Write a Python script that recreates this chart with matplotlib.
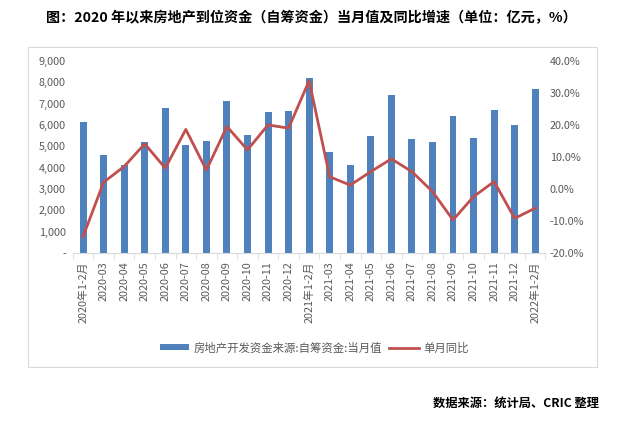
import matplotlib
matplotlib.use("Agg")
import matplotlib.pyplot as plt
from matplotlib.patches import Rectangle
from matplotlib.ticker import FuncFormatter

plt.rcParams["font.family"] = ["Noto Sans CJK SC", "DejaVu Sans"]

months = [
    "2020年1-2月", "2020-03", "2020-04", "2020-05", "2020-06", "2020-07",
    "2020-08", "2020-09", "2020-10", "2020-11", "2020-12",
    "2021年1-2月", "2021-03", "2021-04", "2021-05", "2021-06", "2021-07",
    "2021-08", "2021-09", "2021-10", "2021-11", "2021-12",
    "2022年1-2月",
]
# 自筹资金当月值（亿元）
self_funds = [
    6150, 4590, 4120, 5200, 6800, 5060, 5250, 7120, 5530, 6610, 6660,
    8200, 4730, 4120, 5480, 7410, 5340, 5200, 6420, 5390, 6700, 6000,
    7690,
]
# 单月同比（%）
yoy = [
    -14.9, 2.1, 7.0, 14.1, 6.5, 18.6, 5.9, 19.5, 12.2, 20.0, 19.0,
    33.8, 3.8, 1.2, 5.4, 9.4, 5.4, -0.8, -9.7, -2.4, 2.3, -9.2,
    -6.0,
]

bar_color = "#4F81BD"
line_color = "#C0504D"
tick_color = "#595959"

fig = plt.figure(figsize=(6.22, 4.23), dpi=100)
ax = fig.add_axes([0.117, 0.402, 0.760, 0.454])
ax2 = ax.twinx()

x = list(range(len(months)))
bars = ax.bar(x, self_funds, width=0.34, color=bar_color, zorder=2)
line, = ax2.plot(x, yoy, color=line_color, lw=2.0, zorder=3)

ax.set_xlim(-0.5, len(months) - 0.5)
ax.set_ylim(0, 9000)
ax.set_yticks(range(0, 9001, 1000))
ax.yaxis.set_major_formatter(
    FuncFormatter(lambda v, p: "-" if v == 0 else f"{v:,.0f}"))
ax2.set_ylim(-20, 40)
ax2.set_yticks(range(-20, 41, 10))
ax2.yaxis.set_major_formatter(FuncFormatter(lambda v, p: f"{v:.1f}%"))

ax.set_xticks(x)
ax.set_xticklabels(months, rotation=90, fontsize=7.8, color=tick_color)
ax.set_xticks([i - 0.5 for i in range(len(months) + 1)], minor=True)
ax.tick_params(axis="x", which="major", length=0, pad=6)
ax.tick_params(axis="x", which="minor", length=4, color="#D9D9D9")
ax.tick_params(axis="y", length=0, labelsize=7.8, labelcolor=tick_color, pad=5)
ax2.tick_params(axis="y", length=0, labelsize=7.8, labelcolor=tick_color, pad=3)

for a in (ax, ax2):
    for s in ("top", "left", "right", "bottom"):
        a.spines[s].set_visible(False)
ax.spines["bottom"].set_visible(True)
ax.spines["bottom"].set_color("#D9D9D9")

fig.legend([bars, line], ["房地产开发资金来源:自筹资金:当月值", "单月同比"],
           loc="center", bbox_to_anchor=(0.505, 0.178), ncol=2, frameon=False,
           fontsize=8.2, labelcolor=tick_color, handlelength=2.6,
           handleheight=0.45, columnspacing=0.6, handletextpad=0.4)

fig.patches.append(Rectangle((0.045, 0.1324), 0.915, 0.7565,
                             transform=fig.transFigure, fill=False,
                             edgecolor="#D9D9D9", lw=0.8))

fig.text(0.5, 0.957, "图：2020 年以来房地产到位资金（自筹资金）当月值及同比增速（单位：亿元，%）",
         ha="center", va="center", fontsize=10.2, fontweight="bold")
fig.text(0.963, 0.047, "数据来源：统计局、CRIC 整理", ha="right", va="center",
         fontsize=8.8, fontweight="bold")

fig.savefig("out.png", dpi=100)
